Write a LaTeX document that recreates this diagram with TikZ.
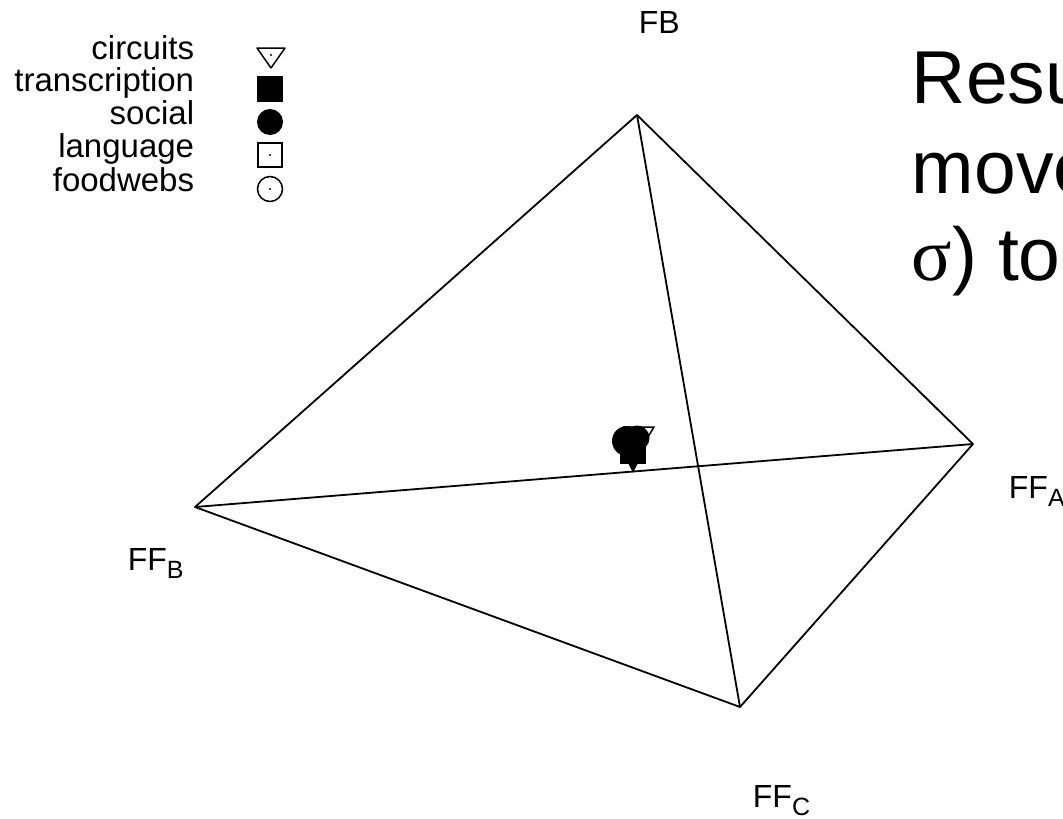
\documentclass[tikz,border=0pt]{standalone}
\usepackage{fontspec}
\setmainfont{Liberation Sans}
\newfontfamily\greekserif{Liberation Serif}
\usepackage{tikz}

\newcommand{\lblsub}[1]{\raisebox{-8pt}{\fontsize{25}{25}\selectfont #1}}

\begin{document}
\begin{tikzpicture}[x=1pt,y=-1pt,line width=1.8pt,
	lbl/.style={anchor=base west,inner sep=0pt,font=\fontsize{32}{32}\selectfont},
	leg/.style={anchor=mid east,inner sep=0pt,font=\fontsize{33}{33}\selectfont},
	big/.style={anchor=base west,inner sep=0pt,font=\fontsize{75}{75}\selectfont}]
			\useasboundingbox (0,0) rectangle (1063,819);
			\clip (0,0) rectangle (1063,819);
			%%%	Vertici
			\coordinate (fb) at (637,115);
			\coordinate (ffa) at (973,444);
			\coordinate (ffb) at (195,507);
			\coordinate (ffc) at (740,707);
			%%%	Disegno
			\draw[line join=round] (fb) -- (ffb) -- (ffc) -- (ffa) -- cycle;
			\draw (fb) -- (ffc);
			\draw (ffb) -- (ffa);
			\node[lbl] (lfb) at (638,33) {FB};
			\node[lbl] (lffa) at (1008,498) {FF\lblsub{A}};
			\node[lbl] (lffb) at (127,570) {FF\lblsub{B}};
			\node[lbl] (lffc) at (752,807) {FF\lblsub{C}};
			%%%	Punti
			\draw[line width=1.5pt] (624,427) -- (654,427) -- (639,452) -- cycle;
			\fill (627,441) circle (15pt);
			\fill (637,438) circle (12.5pt);
			\fill (620,438) rectangle (646,464);
			\filldraw[line width=1.5pt] (621,448) -- (645,448) -- (633,471) -- cycle;
			%%%	Legenda
			\node[leg] (lcirc) at (195,57) {circuits};
			\node[leg] (ltran) at (195,89) {transcription};
			\node[leg] (lsoc) at (195,122) {social};
			\node[leg] (llang) at (195,155) {language};
			\node[leg] (lfood) at (195,189) {foodwebs};
			\begin{scope}[line width=1.5pt]
			\draw[line join=round] (257,48) -- (285,48) -- (271,68) -- cycle;
			\fill (271,55) circle (1.2pt);
			\fill (257,76) rectangle (283,102);
			\fill (270,122) circle (13pt);
			\draw (258,143) rectangle (282,167);
			\fill (270,155) circle (1.2pt);
			\draw (270,189) circle (12.5pt);
			\fill (270,189) circle (1.2pt);
			\end{scope}
			%%%	Testo
			\node[big] (msga) at (911,103) {Resu};
			\node[big] (msgb) at (911,193) {move};
			\node[big] (msgc) at (911,280) {{\greekserif σ}) to};
		\end{tikzpicture}
\end{document}
